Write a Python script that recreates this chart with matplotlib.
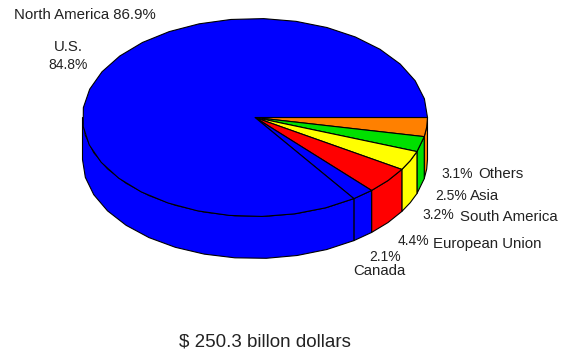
import numpy as np
import matplotlib
matplotlib.use("Agg")
import matplotlib.pyplot as plt
from matplotlib.patches import Polygon

W, H = 568, 351

# Share of the total per region, going clockwise from 3 o'clock
regions = ["Others", "Asia", "South America", "European Union", "Canada", "U.S."]
shares = [3.1, 2.5, 3.2, 4.4, 2.1, 84.8]
colors = ["#ff8000", "#00e000", "#ffff00", "#ff0000", "#0000ff", "#0000ff"]

# Pie geometry in pixels
cx, cy = 255, 117.5
rx, ry = 172.5, 99
depth = 42
seg_deg = 10.9

plt.rcParams["font.family"] = ["Liberation Sans", "DejaVu Sans"]
fig = plt.figure(figsize=(W / 100, H / 100), dpi=100)
ax = fig.add_axes([0, 0, 1, 1])
ax.set_xlim(-cx / rx, (W - cx) / rx)
ax.set_ylim(-(H - cy) / ry, cy / ry)
ax.axis("off")

drop = depth / ry
lw = 0.8


def rim(a0, a1):
    # faceted arc, angles in degrees clockwise from 3 o'clock
    n = max(1, int(np.ceil((a1 - a0) / seg_deg)))
    t = np.radians(np.linspace(a0, a1, n + 1))
    return np.cos(t), -np.sin(t)


total = sum(shares)
edges = np.cumsum([0] + shares) / total * 360

# Side wall first, only the front half faces the viewer
for a0, a1, c in zip(edges[:-1], edges[1:], colors):
    a1_vis = min(a1, 180)
    if a0 >= 180:
        continue
    x, y = rim(a0, a1_vis)
    pts = np.r_[np.c_[x, y], np.c_[x[::-1], y[::-1] - drop]]
    ax.add_patch(Polygon(pts, closed=True, fc=c, ec="black", lw=lw, joinstyle="round", zorder=2))

# Top face
for a0, a1, c in zip(edges[:-1], edges[1:], colors):
    x, y = rim(a0, a1)
    pts = np.r_[[[0, 0]], np.c_[x, y]]
    ax.add_patch(Polygon(pts, closed=True, fc=c, ec="black", lw=lw, joinstyle="round", zorder=3))


def label(s, px, py, size=10.85, ha="left"):
    fig.text(px / W, 1 - py / H, s, fontsize=size, ha=ha, va="baseline", color="#222222")


pct = 10
label("North America 86.9%", 14, 19)
label("U.S.", 68, 51, ha="center")
label("84.8%", 68, 69, size=pct, ha="center")
label("3.1%", 441, 178.5, size=pct)
label("Others", 478, 178.5)
label("2.5%", 435, 200, size=pct)
label("Asia", 470, 200)
label("3.2%", 422, 219, size=pct)
label("South America", 460, 221)
label("4.4%", 398, 245, size=pct)
label("European Union", 433, 248)
label("2.1%", 369, 261, size=pct)
label("Canada", 353, 275)
label("$ 250.3 billon dollars", 179, 347, size=13.5)

fig.savefig("out.png", dpi=100)
